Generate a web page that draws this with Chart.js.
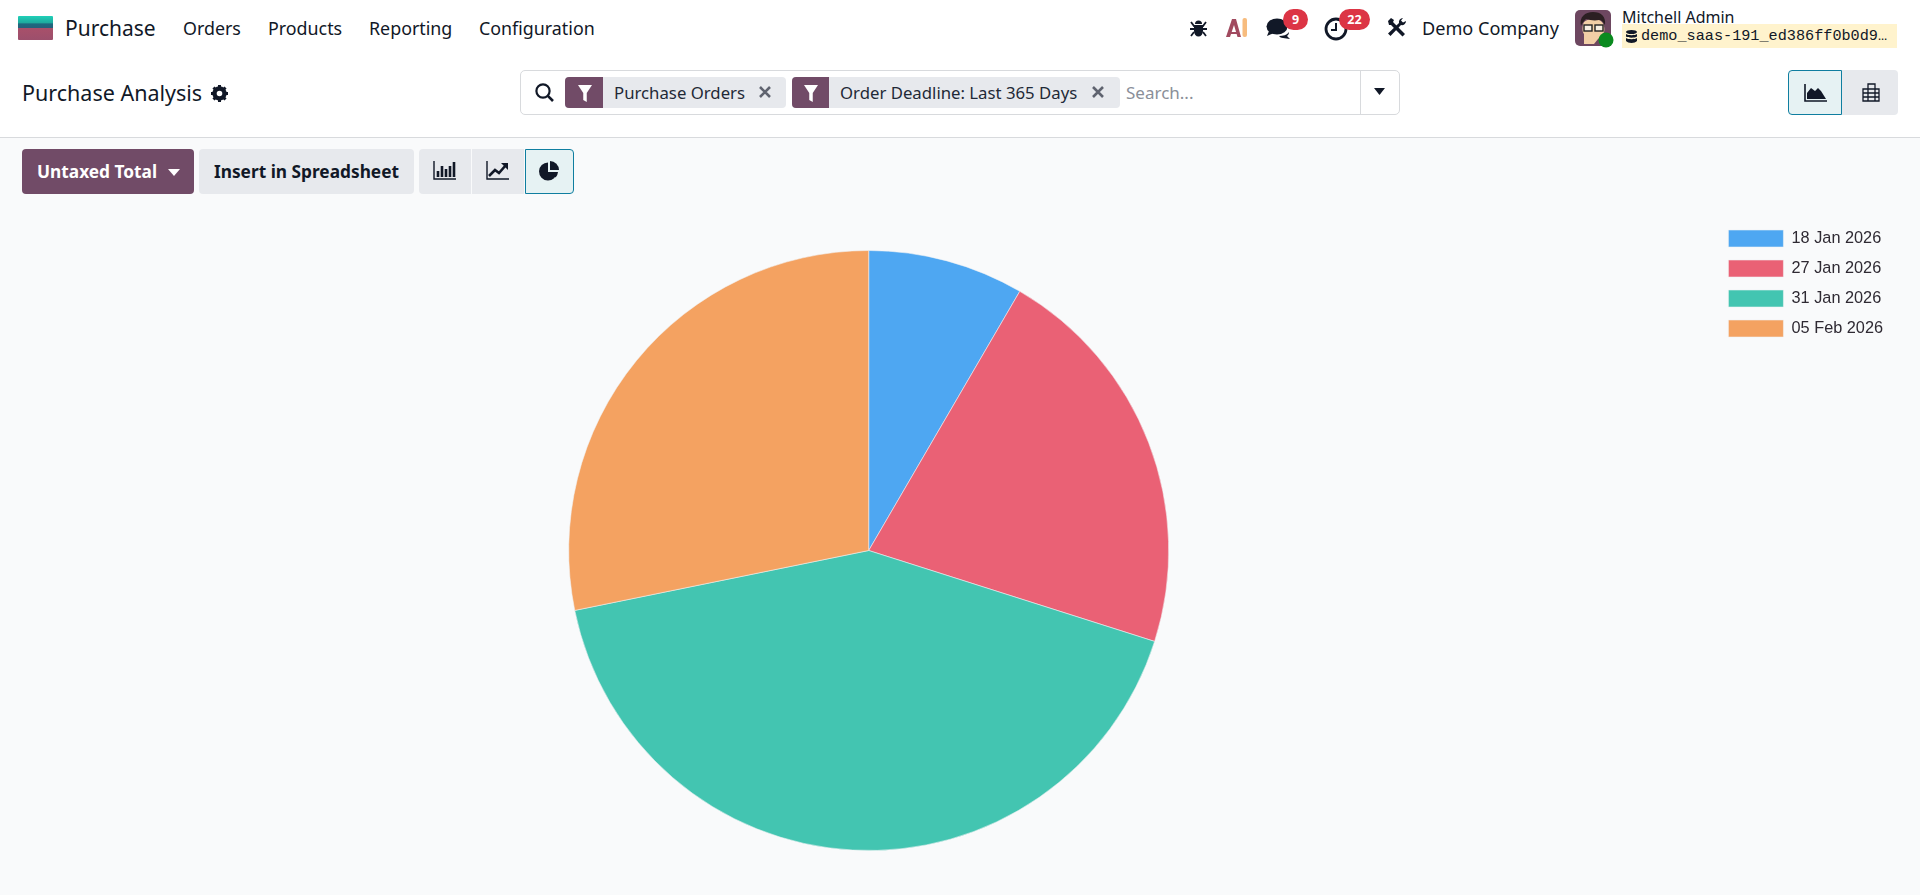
<!DOCTYPE html>
<html>
<head>
<meta charset="utf-8">
<title>Purchase Analysis</title>
<script src="https://cdn.jsdelivr.net/npm/chart.js@4/dist/chart.umd.min.js"></script>
<style>
html, body { margin: 0; padding: 0; }
body { width: 1920px; height: 895px; overflow: hidden; background: #f9fafb; position: relative;
       font-family: "Noto Sans", sans-serif; color: #111827; }
.abs { position: absolute; white-space: nowrap; }
.header { position: absolute; left: 0; top: 0; width: 1920px; height: 137px; background: #fff; border-bottom: 1px solid #d8dadd; }
.nav { font-size: 17.85px; line-height: 24px; top: 16px; }
.chip { position: absolute; top: 77px; height: 31px; background: #e7e9ed; border-radius: 4px; }
.chip .facet { position: absolute; left: 0; top: 0; bottom: 0; background: #714b67; border-radius: 4px 0 0 4px; }
.chip span { position: absolute; top: 4px; font-size: 16.75px; line-height: 24px; white-space: nowrap; color: #1f2937; }
.btn { position: absolute; top: 149px; height: 45px; border-radius: 4px; background: #e7e9ed; font-size: 17.3px; font-weight: 700; line-height: 46px; text-align: center; }
.badge { position: absolute; height: 21px; top: 9px; background: #dc3545; color: #fff; border-radius: 11px; font-size: 12.5px; font-weight: 700; line-height: 21px; text-align: center; }
canvas { position: absolute; left: 22px; top: 217px; }
svg { position: absolute; overflow: visible; }
</style>
</head>
<body>
<div class="header"></div>

<!-- logo and menu -->
<svg style="left:18px;top:16px" width="35" height="24">
  <defs><linearGradient id="logoFill" x1="0" y1="0" x2="0" y2="1">
    <stop offset="0" stop-color="#1fd0b8"/><stop offset="0.3" stop-color="#1fa89c"/>
    <stop offset="0.32" stop-color="#1d6a80"/><stop offset="0.5" stop-color="#25607a"/>
    <stop offset="0.52" stop-color="#a8506a"/><stop offset="1" stop-color="#9c4f6c"/>
  </linearGradient></defs>
  <rect width="35" height="24" rx="1" fill="url(#logoFill)"/>
</svg>
<div class="abs" style="left:65px;top:14px;font-size:21px;line-height:28px">Purchase</div>
<div class="abs nav" style="left:183px">Orders</div>
<div class="abs nav" style="left:268px">Products</div>
<div class="abs nav" style="left:369px">Reporting</div>
<div class="abs nav" style="left:479px">Configuration</div>

<!-- systray -->
<svg style="left:1190px;top:19px" width="17" height="18" viewBox="0 0 17 18" fill="#111827">
  <path d="M4 6h9v6a4.5 5.5 0 0 1-9 0z"/><path d="M5 5a3.5 3.5 0 0 1 7 0z"/>
  <path d="M1 3l3 4h9l3-4M0 10h17M1 17l3-4M16 17l-3-4" stroke="#111827" stroke-width="1.8" fill="none"/>
</svg>
<svg style="left:1226px;top:18px" width="22" height="19" viewBox="0 0 22 19">
  <path d="M0 19L6 1h4l5 18h-3.5L8 7 4 19z" fill="#a14a5f"/><path d="M3 14h9v2H3z" fill="#a14a5f"/>
  <rect x="16.5" y="0" width="4.5" height="19" rx="2" fill="#f7bc7e"/>
</svg>
<svg style="left:1266px;top:18px" width="26" height="22" viewBox="0 0 26 22" fill="#111827">
  <ellipse cx="11" cy="8.5" rx="10.5" ry="8"/>
  <path d="M3 13l-2 5 7-3z"/><path d="M13 18c4 0 8-1 10-4 0 2-1 3-2 4l3 3-7-1c-2 0-3-1-4-2z"/>
</svg>
<div class="badge" style="left:1283px;width:25px">9</div>
<svg style="left:1324px;top:17px" width="24" height="24" viewBox="0 0 24 24" fill="none" stroke="#111827">
  <circle cx="12" cy="12" r="10" stroke-width="2.8"/><path d="M12 6v7H7" stroke-width="2"/>
</svg>
<div class="badge" style="left:1339px;width:31px">22</div>
<svg style="left:1387px;top:18px" width="20" height="19" viewBox="0 0 20 19" fill="#111827">
  <path d="M1 3l3-3 3 2-1 2 12 12-2.5 2.5L4 7 2 7z"/>
  <path d="M19 3a4 4 0 0 1-5 4L3.5 18 1 15.5 12 5a4 4 0 0 1 4-5l-2 2.5 2 2z"/>
</svg>
<div class="abs" style="left:1422px;top:16px;font-size:18.1px;line-height:24px">Demo Company</div>
<svg style="left:1575px;top:10px" width="40" height="38" viewBox="0 0 40 38">
  <rect width="36" height="36" rx="5" fill="#6d4760"/>
  <path d="M9 34V24c-2-2-2-8 0-12 4-4 15-4 18 0 3 4 3 10 1 12l-5 5-4 5z" fill="#f2cfa6"/>
  <path d="M6 16C4 7 10 2 18 2s13 4 12 13c-2-3-3-5-6-5-5 1-9 0-13-1-2 2-4 4-5 7z" fill="#2b1f22"/>
  <rect x="9" y="15" width="8" height="6" fill="#f7efe2" stroke="#222" stroke-width="1.4"/>
  <rect x="20" y="15" width="8" height="6" fill="#f7efe2" stroke="#222" stroke-width="1.4"/>
  <circle cx="31" cy="30" r="7.5" fill="#0a8a1f"/>
</svg>
<div class="abs" style="left:1622px;top:6px;font-size:16px;line-height:22px">Mitchell Admin</div>
<div class="abs" style="left:1622px;top:24px;width:275px;height:24px;background:#fff3cd"></div>
<svg style="left:1626px;top:30px" width="11" height="13" viewBox="0 0 11 13" fill="#111827">
  <ellipse cx="5.5" cy="2" rx="5.5" ry="2"/><path d="M0 4c2 1.6 9 1.6 11 0v2.5c-2 1.6-9 1.6-11 0zM0 8c2 1.6 9 1.6 11 0v3c-2 2.6-9 2.6-11 0z"/>
</svg>
<div class="abs" style="left:1641px;top:25px;font-family:'Liberation Mono',monospace;font-size:15.2px;line-height:22px">demo_saas-191_ed386ff0b0d9…</div>

<!-- control panel -->
<div class="abs" style="left:22px;top:78px;font-size:21.5px;line-height:30px">Purchase Analysis</div>
<svg style="left:211px;top:85px" width="17" height="17" viewBox="0 0 17 17">
  <circle cx="8.5" cy="8.5" r="5" fill="none" stroke="#111827" stroke-width="4.4"/>
  <path d="M8.5 0v17M0 8.5h17M2.5 2.5l12 12M14.5 2.5l-12 12" stroke="#111827" stroke-width="3" stroke-dasharray="3 11"/>
</svg>

<div class="abs" style="left:520px;top:70px;width:878px;height:43px;background:#fff;border:1px solid #d8dadd;border-radius:5px"></div>
<div class="abs" style="left:1360px;top:70px;width:1px;height:45px;background:#d8dadd"></div>
<svg style="left:535px;top:83px" width="19" height="19" viewBox="0 0 19 19" fill="none" stroke="#111827">
  <circle cx="8" cy="8" r="6.6" stroke-width="2.2"/><path d="M12.6 12.6L18 18" stroke-width="2.6"/>
</svg>
<div class="chip" style="left:565px;width:221px">
  <div class="facet" style="width:38px"></div><span style="left:49px">Purchase Orders</span>
</div>
<svg style="left:578px;top:85px" width="14" height="17" viewBox="0 0 16 17" fill="#fff" preserveAspectRatio="none"><path d="M0 0h16l-6 8v9l-4-2V8z"/></svg>
<svg style="left:759px;top:86px" width="12" height="12" stroke="#5f636f" stroke-width="2.6"><path d="M1 1l10 10M11 1L1 11"/></svg>
<div class="chip" style="left:792px;width:328px">
  <div class="facet" style="width:37px"></div><span style="left:48px">Order Deadline: Last 365 Days</span>
</div>
<svg style="left:804px;top:85px" width="14" height="17" viewBox="0 0 16 17" fill="#fff" preserveAspectRatio="none"><path d="M0 0h16l-6 8v9l-4-2V8z"/></svg>
<svg style="left:1092px;top:86px" width="12" height="12" stroke="#5f636f" stroke-width="2.6"><path d="M1 1l10 10M11 1L1 11"/></svg>
<div class="abs" style="left:1126px;top:81px;font-size:17px;line-height:24px;color:#8a8f99">Search...</div>
<svg style="left:1374px;top:88px" width="11" height="7"><path d="M0 0h11L5.5 7z" fill="#111827"/></svg>

<div class="abs" style="left:1788px;top:70px;width:52px;height:43px;background:#e6f2f3;border:1px solid #0f7ea0;border-radius:4px 0 0 4px"></div>
<svg style="left:1804px;top:84px" width="23" height="18" viewBox="0 0 23 18">
  <path d="M1 0v17h22" fill="none" stroke="#111827" stroke-width="1.6"/>
  <path d="M3 15V9l4-5 4 3 3-3 3 3 5 8z" fill="#111827"/>
</svg>
<div class="abs" style="left:1842px;top:70px;width:56px;height:45px;background:#e7e9ed;border-radius:0 4px 4px 0"></div>
<svg style="left:1862px;top:83px" width="18" height="19" stroke="#111827" stroke-width="1.3" fill="none">
  <path d="M6 1h7v5h4v12H1V6h5zM1 10h16M1 14h16M6 6h11M6 6v12M13 6v12"/>
</svg>

<!-- action buttons -->
<div class="btn" style="left:22px;width:172px;background:#714b67;color:#fff;text-align:left;text-indent:15px">Untaxed Total</div>
<svg style="left:168px;top:169px" width="12" height="7"><path d="M0 0h12L6 7z" fill="#fff"/></svg>
<div class="btn" style="left:199px;width:215px">Insert in Spreadsheet</div>
<div class="btn" style="left:419px;width:52px;border-radius:4px 0 0 4px"></div>
<div class="btn" style="left:472px;width:52px;border-radius:0"></div>
<div class="btn" style="left:525px;width:47px;height:43px;background:#e6f2f3;border:1px solid #0f7ea0;border-radius:0 4px 4px 0"></div>
<svg style="left:434px;top:161px" width="22" height="19" stroke="#111827" fill="none">
  <path d="M0 0v18h22" stroke-width="1.4"/>
  <path d="M4 16v-6M8 16V5M12 16V8M16 16V5M20 16V1" stroke-width="2.6"/>
</svg>
<svg style="left:487px;top:161px" width="22" height="19" fill="none" stroke="#111827">
  <path d="M0 0v18h22" stroke-width="1.4"/><path d="M2 15l6-6 4 3 7-8" stroke-width="2.6"/><path d="M14 2h7v7z" fill="#111827" stroke="none"/>
</svg>
<svg style="left:539px;top:161px" width="20" height="20" viewBox="0 0 20 20" fill="#111827">
  <path d="M9 1.5A9 9 0 1 0 18 11H9z"/><path d="M11 0a9 9 0 0 1 9 9h-9z"/><path d="M12 11h7a9 9 0 0 1-2.4 5.5z"/>
</svg>

<canvas id="purchaseChart" width="1871" height="667"></canvas>

<script>
const deadlines = ['18 Jan 2026', '27 Jan 2026', '31 Jan 2026', '05 Feb 2026'];
const untaxedTotal = [8.4, 21.5, 41.9, 28.2];
const sliceColors = ['#4ea7f2', '#ea6175', '#43c5b1', '#f4a261'];

new Chart(document.getElementById('purchaseChart').getContext('2d'), {
    type: 'pie',
    data: {
        labels: deadlines,
        datasets: [{
            label: 'Untaxed Total',
            data: untaxedTotal,
            backgroundColor: sliceColors,
            borderColor: 'rgba(240, 242, 244, 0.55)',
            borderWidth: 1,
            radius: 300,
        }],
    },
    options: {
        responsive: false,
        animation: false,
        plugins: {
            tooltip: { enabled: false },
            legend: {
                position: 'right',
                align: 'start',
                labels: {
                    boxWidth: 55,
                    boxHeight: 17,
                    padding: 13,
                    color: '#2f2a33',
                    font: { family: '"Liberation Sans", Arial, sans-serif', size: 16.3 },
                },
            },
        },
    },
});
</script>
</body>
</html>
